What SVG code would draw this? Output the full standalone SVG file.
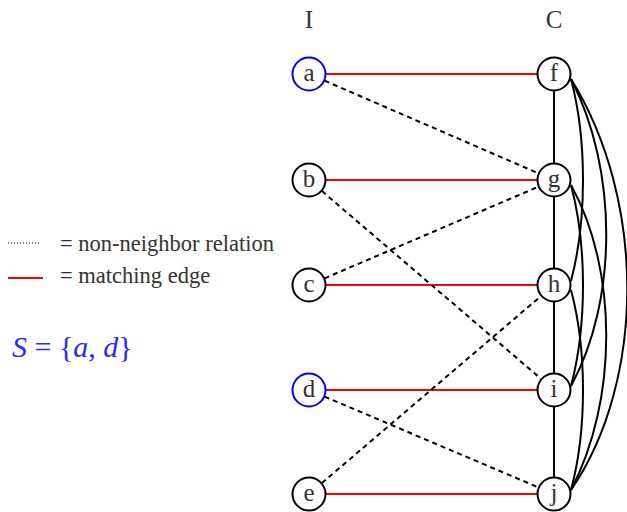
<svg xmlns="http://www.w3.org/2000/svg" width="627" height="512" viewBox="0 0 627 512">
<style>
  .node circle { fill: #ffffff; stroke: #000000; stroke-width: 2; }
  .node.sel circle { stroke: #0000ff; }
  .serif { font-family: 'Liberation Serif', 'DejaVu Serif', serif; }
  .node text, .lbl { font-size: 25px; fill: #333333; text-anchor: middle; }
  .match { stroke: #ff0000; stroke-width: 2; fill: none; }
  .non { stroke: #000000; stroke-width: 2; stroke-dasharray: 5 4; fill: none; }
  .clique { stroke: #000000; stroke-width: 2; fill: none; }
  .leg { font-size: 22.5px; fill: #333333; }
  .math { font-size: 30px; fill: #2a2aff; }
</style>
<rect width="627" height="512" fill="#ffffff"/>
<g font-family="Liberation Serif, DejaVu Serif, serif" class="serif">
<text class="lbl" x="309" y="28">I</text>
<text class="lbl" x="554" y="28">C</text>
<g id="connectors">
  <line class="clique" x1="554" y1="91" x2="554" y2="163"/>
  <line class="clique" x1="554" y1="197" x2="554" y2="268"/>
  <line class="clique" x1="554" y1="302" x2="554" y2="373"/>
  <line class="clique" x1="554" y1="407" x2="554" y2="477"/>
  <path class="clique" d="M571,79 C587,140 587,220 571,281"/>
  <path class="clique" d="M571,79 C618,170 618,300 571,386"/>
  <path class="clique" d="M571,79 C646,200 646,380 571,490"/>
  <path class="clique" d="M571,185 C587,245 587,325 571,386"/>
  <path class="clique" d="M571,185 C618,270 618,400 571,490"/>
  <path class="clique" d="M571,290 C587,350 587,430 571,490"/>
  <line class="match" x1="326" y1="74" x2="537" y2="74"/>
  <line class="match" x1="326" y1="180" x2="537" y2="180"/>
  <line class="match" x1="326" y1="285" x2="537" y2="285"/>
  <line class="match" x1="326" y1="390" x2="537" y2="390"/>
  <line class="match" x1="326" y1="494" x2="537" y2="494"/>
  <line class="non" x1="324.6" y1="80.7" x2="538.4" y2="173.3"/>
  <line class="non" x1="321.9" y1="191.1" x2="541.1" y2="378.9"/>
  <line class="non" x1="324.6" y1="278.3" x2="538.4" y2="186.7"/>
  <line class="non" x1="324.6" y1="396.6" x2="538.4" y2="487.4"/>
  <line class="non" x1="321.9" y1="483" x2="541.1" y2="296"/>
</g>
<g id="node-a" class="node sel"><circle cx="309" cy="74" r="16.5"/><text x="309" y="81">a</text></g>
<g id="node-b" class="node"><circle cx="309" cy="180" r="16.5"/><text x="309" y="187">b</text></g>
<g id="node-c" class="node"><circle cx="309" cy="285" r="16.5"/><text x="309" y="292">c</text></g>
<g id="node-d" class="node sel"><circle cx="309" cy="390" r="16.5"/><text x="309" y="397">d</text></g>
<g id="node-e" class="node"><circle cx="309" cy="494" r="16.5"/><text x="309" y="501">e</text></g>
<g id="node-f" class="node"><circle cx="554" cy="74" r="16.5"/><text x="554" y="81">f</text></g>
<g id="node-g" class="node"><circle cx="554" cy="180" r="16.5"/><text x="554" y="187">g</text></g>
<g id="node-h" class="node"><circle cx="554" cy="285" r="16.5"/><text x="554" y="292">h</text></g>
<g id="node-i" class="node"><circle cx="554" cy="390" r="16.5"/><text x="554" y="397">i</text></g>
<g id="node-j" class="node"><circle cx="554" cy="494" r="16.5"/><text x="554" y="501">j</text></g>
<g id="legend">
  <line x1="8" y1="243" x2="40" y2="243" stroke="#000000" stroke-width="1" stroke-dasharray="1 2"/>
  <text class="leg" x="60" y="251">= non-neighbor relation</text>
  <line x1="8" y1="278" x2="43" y2="278" stroke="#ff0000" stroke-width="2"/>
  <text class="leg" x="60" y="283">= matching edge</text>
  <text class="math" x="12" y="357"><tspan font-style="italic">S</tspan> = {<tspan font-style="italic">a</tspan>, <tspan font-style="italic">d</tspan>}</text>
</g>
</g>
</svg>
